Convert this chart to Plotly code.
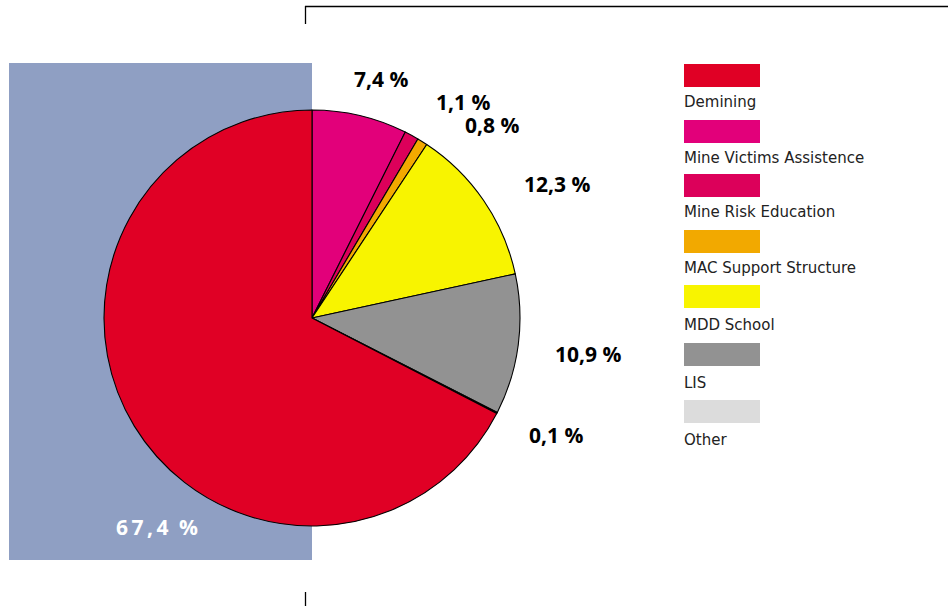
import plotly.graph_objects as go

W, H = 948, 606

# Data (legend order)
categories = ["Demining", "Mine Victims Assistence", "Mine Risk Education",
              "MAC Support Structure", "MDD School", "LIS", "Other"]
shares = [67.4, 7.4, 1.1, 0.8, 12.3, 10.9, 0.1]
colors = ["#e00025", "#e2007a", "#dc005a", "#f2a900", "#f8f400", "#929292", "#dcdcdc"]

# Pie draws clockwise from 12 o'clock starting with Mine Victims Assistence
pie_order = [1, 2, 3, 4, 5, 6, 0]
pie_labels = [categories[i] for i in pie_order]
pie_values = [shares[i] for i in pie_order]
pie_colors = [colors[i] for i in pie_order]

def px(x):
    return x / W

def py(y):
    return 1 - y / H

fig = go.Figure()

cx, cy, r = 312, 318, 208
fig.add_trace(go.Pie(
    labels=pie_labels, values=pie_values, sort=False, direction="clockwise",
    rotation=0, textinfo="none", hoverinfo="label+percent",
    marker=dict(colors=pie_colors, line=dict(color="#000000", width=1.1)),
    domain=dict(x=[px(cx - r), px(cx + r)], y=[py(cy + r), py(cy - r)]),
    showlegend=False,
))

shapes = []
# blue-gray background block behind the left half of the pie
shapes.append(dict(type="rect", xref="paper", yref="paper", layer="below",
                   x0=px(9), x1=px(312), y0=py(560), y1=py(63),
                   fillcolor="#8f9fc3", line=dict(width=0)))
# frame lines
shapes.append(dict(type="line", xref="paper", yref="paper",
                   x0=px(305), x1=px(948), y0=py(6.5), y1=py(6.5),
                   line=dict(color="#000", width=1.3)))
shapes.append(dict(type="line", xref="paper", yref="paper",
                   x0=px(305.5), x1=px(305.5), y0=py(6), y1=py(24),
                   line=dict(color="#000", width=1.3)))
shapes.append(dict(type="line", xref="paper", yref="paper",
                   x0=px(305.5), x1=px(305.5), y0=py(592), y1=py(606),
                   line=dict(color="#000", width=1.3)))

annotations = []
# Legend swatches and texts
box_tops = [64, 120, 174, 230, 285, 343, 400]
text_centers = [102, 158, 212, 268, 325, 383, 440]
for cat, col, bt, tc in zip(categories, colors, box_tops, text_centers):
    shapes.append(dict(type="rect", xref="paper", yref="paper",
                       x0=px(684), x1=px(760), y0=py(bt + 23), y1=py(bt),
                       fillcolor=col, line=dict(width=0)))
    annotations.append(dict(xref="paper", yref="paper", x=px(682), y=py(tc),
                            text=cat, showarrow=False, xanchor="left", yanchor="middle",
                            font=dict(family="DejaVu Sans", size=15, color="#222")))

# Value labels
label_pos = {
    "Mine Victims Assistence": (381, 79, "#000"),
    "Mine Risk Education": (463, 102, "#000"),
    "MAC Support Structure": (492, 125, "#000"),
    "MDD School": (557, 184, "#000"),
    "LIS": (588, 354, "#000"),
    "Other": (556, 435, "#000"),
    "Demining": (157, 527, "#ffffff"),
}
for cat, val in zip(categories, shares):
    x, y, c = label_pos[cat]
    num = f"{val:.1f}".replace(".", ",")
    if cat == "Demining":
        txt = "\u2009".join(num) + "\u2002%"
    else:
        txt = num + " %"
    annotations.append(dict(xref="paper", yref="paper", x=px(x), y=py(y), text=f"<b>{txt}</b>",
                            showarrow=False, xanchor="center", yanchor="middle",
                            font=dict(family="Open Sans", size=21, color=c)))

fig.update_layout(
    width=W, height=H, margin=dict(l=0, r=0, t=0, b=0),
    paper_bgcolor="#ffffff", plot_bgcolor="#ffffff",
    shapes=shapes, annotations=annotations,
)

fig.write_html("out.html", config={"displayModeBar": False},
               post_script="document.body.style.margin='0';document.body.style.padding='0';")
